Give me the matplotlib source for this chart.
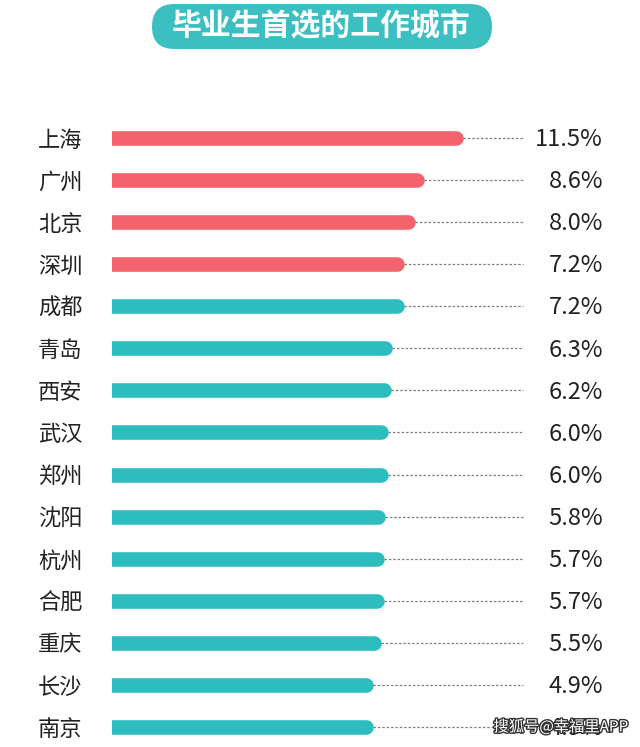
import matplotlib.pyplot as plt
import matplotlib.transforms as mtrans
from matplotlib.patches import FancyBboxPatch
import matplotlib.patheffects as pe

plt.rcParams['font.family'] = ['Noto Sans CJK SC', 'DejaVu Sans']

cities = ['上海', '广州', '北京', '深圳', '成都', '青岛', '西安', '武汉',
          '郑州', '沈阳', '杭州', '合肥', '重庆', '长沙', '南京']
shares = [11.5, 8.6, 8.0, 7.2, 7.2, 6.3, 6.2, 6.0, 6.0, 5.8, 5.7, 5.7, 5.5, 4.9, 4.9]
highlight = ['上海', '广州', '北京', '深圳']
title = '毕业生首选的工作城市'

red = '#F2636B'
teal = '#2EBDBE'
base = -14.15   # value at left edge of the bars

fig = plt.figure(figsize=(6.4, 7.47), dpi=100)
ax = fig.add_axes([112/640, 0, 528/640, 1])
ax.set_xlim(base, 24.4)
ax.set_ylim(14.476, -3.28)
ax.axis('off')

trans = mtrans.blended_transform_factory(ax.transAxes, ax.transData)
cap = 0.51  # half bar height in x units

for i, (c, v) in enumerate(zip(cities, shares)):
    col = red if c in highlight else teal
    ax.plot([base - 2, v - cap], [i, i], color=col, lw=10.5, solid_capstyle='round', clip_on=True)
    ax.plot([v, 15.85], [i, i], color='#808080', lw=0.9, ls=(0, (2, 1.5)))
    ax.text(0.930, i + 0.04, f'{v:.1f}%', transform=trans, ha='right', va='center',
            fontsize=17, color='#222222')
    ax.text(-74/528, i + 0.05, c, transform=trans, ha='left', va='center',
            fontsize=16, color='#222222')

# title banner
box = FancyBboxPatch((152/640, 1 - 49/747), 340/640, 45/747,
                     boxstyle='round,pad=0,rounding_size=0.035',
                     transform=fig.transFigure, facecolor='#3BBFC0', edgecolor='none',
                     mutation_aspect=640/747)
fig.patches.append(box)
fig.text(321/640, 1 - 26/747, title, ha='center', va='center', fontsize=21.5,
         fontweight='bold', color='white')

# watermark
fig.text(628/640, 1 - 727/747, '搜狐号@幸福里APP', ha='right', va='center', fontsize=11,
         color='white', path_effects=[pe.withStroke(linewidth=2, foreground='#333333')])

fig.savefig('out.png', dpi=100, facecolor='white')
